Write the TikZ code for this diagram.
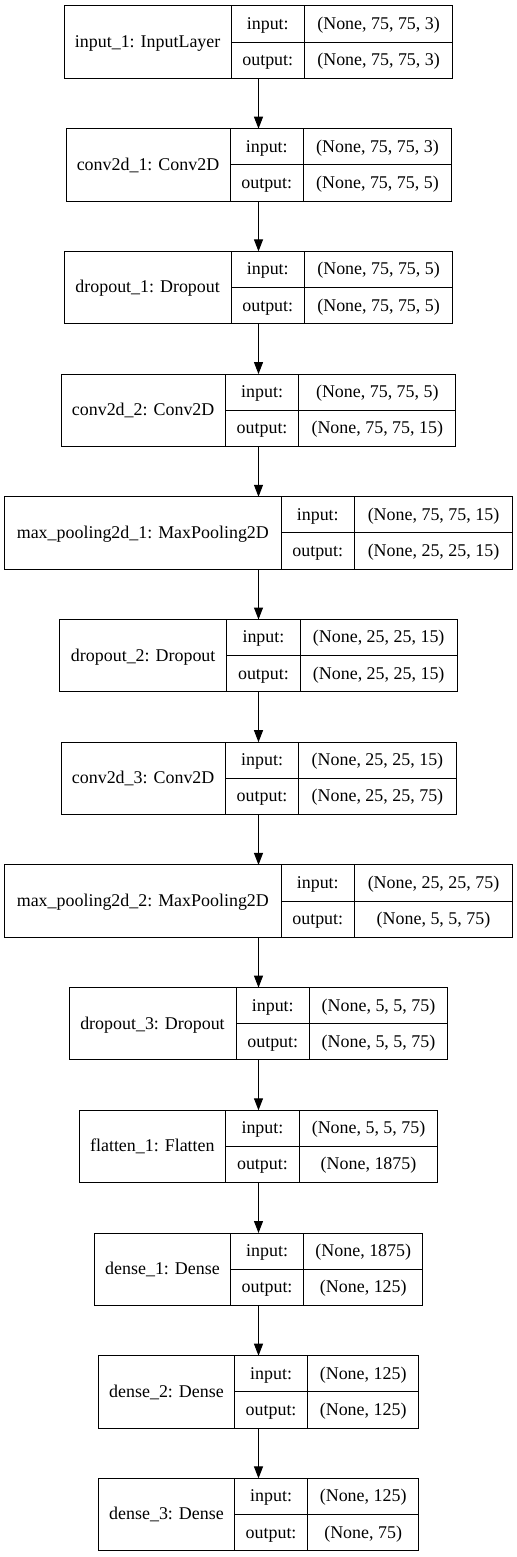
\documentclass[tikz,border=0pt]{standalone}
\usepackage{fontspec}
\setmainfont{Liberation Serif}
\usetikzlibrary{positioning,arrows.meta}
\tikzset{
  namebox/.style={rectangle, draw, line width=1bp, inner sep=0pt, outer sep=0pt, minimum height=72.3bp,
                  font=\fontsize{18}{20}\selectfont, text height=13.5bp, text depth=2.7bp},
  cell/.style={namebox, minimum height=36.15bp},
  tag/.style={cell, minimum width=73.5bp},
  fwd/.style={-{Triangle[length=12bp,width=9bp]}, line width=1bp},
}

\begin{document}
\begin{tikzpicture}[x=1bp,y=-1bp]
  \useasboundingbox (0,0) rectangle (517,1557);
  \coordinate (ax) at (258.5,0);

  % input_1
  \node[namebox, minimum width=166.7bp, anchor=north west] (inp) at (64.3,6) {input\_1: InputLayer};
  \node[tag, anchor=north west] (inp-in) at (inp.north east) {input:};
  \node[tag, below=0pt of inp-in] (inp-out) {output:};
  \node[cell, minimum width=148.2bp, right=0pt of inp-in] (inp-ins) {(None, 75, 75, 3)};
  \node[cell, minimum width=148.2bp, right=0pt of inp-out] (inp-outs) {(None, 75, 75, 3)};

  % conv2d_1
  \node[namebox, minimum width=164bp, anchor=north west] (conv1) at (66,128.7) {conv2d\_1: Conv2D};
  \node[tag, anchor=north west] (conv1-in) at (conv1.north east) {input:};
  \node[tag, below=0pt of conv1-in] (conv1-out) {output:};
  \node[cell, minimum width=148bp, right=0pt of conv1-in] (conv1-ins) {(None, 75, 75, 3)};
  \node[cell, minimum width=148bp, right=0pt of conv1-out] (conv1-outs) {(None, 75, 75, 5)};

  % dropout_1
  \node[namebox, minimum width=166.7bp, anchor=north west] (drop1) at (64.3,251.4) {dropout\_1: Dropout};
  \node[tag, anchor=north west] (drop1-in) at (drop1.north east) {input:};
  \node[tag, below=0pt of drop1-in] (drop1-out) {output:};
  \node[cell, minimum width=148.2bp, right=0pt of drop1-in] (drop1-ins) {(None, 75, 75, 5)};
  \node[cell, minimum width=148.2bp, right=0pt of drop1-out] (drop1-outs) {(None, 75, 75, 5)};

  % conv2d_2
  \node[namebox, minimum width=164.3bp, anchor=north west] (conv2) at (61,374.1) {conv2d\_2: Conv2D};
  \node[tag, anchor=north west] (conv2-in) at (conv2.north east) {input:};
  \node[tag, below=0pt of conv2-in] (conv2-out) {output:};
  \node[cell, minimum width=157bp, right=0pt of conv2-in] (conv2-ins) {(None, 75, 75, 5)};
  \node[cell, minimum width=157bp, right=0pt of conv2-out] (conv2-outs) {(None, 75, 75, 15)};

  % max_pooling2d_1
  \node[namebox, minimum width=276.3bp, anchor=north west] (pool1) at (4.7,496.8) {max\_pooling2d\_1: MaxPooling2D};
  \node[tag, anchor=north west] (pool1-in) at (pool1.north east) {input:};
  \node[tag, below=0pt of pool1-in] (pool1-out) {output:};
  \node[cell, minimum width=158bp, right=0pt of pool1-in] (pool1-ins) {(None, 75, 75, 15)};
  \node[cell, minimum width=158bp, right=0pt of pool1-out] (pool1-outs) {(None, 25, 25, 15)};

  % dropout_2
  \node[namebox, minimum width=167bp, anchor=north west] (drop2) at (59.7,619.5) {dropout\_2: Dropout};
  \node[tag, anchor=north west] (drop2-in) at (drop2.north east) {input:};
  \node[tag, below=0pt of drop2-in] (drop2-out) {output:};
  \node[cell, minimum width=157bp, right=0pt of drop2-in] (drop2-ins) {(None, 25, 25, 15)};
  \node[cell, minimum width=157bp, right=0pt of drop2-out] (drop2-outs) {(None, 25, 25, 15)};

  % conv2d_3
  \node[namebox, minimum width=164.3bp, anchor=north west] (conv3) at (61,742.2) {conv2d\_3: Conv2D};
  \node[tag, anchor=north west] (conv3-in) at (conv3.north east) {input:};
  \node[tag, below=0pt of conv3-in] (conv3-out) {output:};
  \node[cell, minimum width=157.3bp, right=0pt of conv3-in] (conv3-ins) {(None, 25, 25, 15)};
  \node[cell, minimum width=157.3bp, right=0pt of conv3-out] (conv3-outs) {(None, 25, 25, 75)};

  % max_pooling2d_2
  \node[namebox, minimum width=276.3bp, anchor=north west] (pool2) at (4.7,864.9) {max\_pooling2d\_2: MaxPooling2D};
  \node[tag, anchor=north west] (pool2-in) at (pool2.north east) {input:};
  \node[tag, below=0pt of pool2-in] (pool2-out) {output:};
  \node[cell, minimum width=158bp, right=0pt of pool2-in] (pool2-ins) {(None, 25, 25, 75)};
  \node[cell, minimum width=158bp, right=0pt of pool2-out] (pool2-outs) {(None, 5, 5, 75)};

  % dropout_3
  \node[namebox, minimum width=167bp, anchor=north west] (drop3) at (69,987.6) {dropout\_3: Dropout};
  \node[tag, anchor=north west] (drop3-in) at (drop3.north east) {input:};
  \node[tag, below=0pt of drop3-in] (drop3-out) {output:};
  \node[cell, minimum width=138bp, right=0pt of drop3-in] (drop3-ins) {(None, 5, 5, 75)};
  \node[cell, minimum width=138bp, right=0pt of drop3-out] (drop3-outs) {(None, 5, 5, 75)};

  % flatten_1
  \node[namebox, minimum width=146.7bp, anchor=north west] (flat) at (79,1110.3) {flatten\_1: Flatten};
  \node[tag, anchor=north west] (flat-in) at (flat.north east) {input:};
  \node[tag, below=0pt of flat-in] (flat-out) {output:};
  \node[cell, minimum width=138.7bp, right=0pt of flat-in] (flat-ins) {(None, 5, 5, 75)};
  \node[cell, minimum width=138.7bp, right=0pt of flat-out] (flat-outs) {(None, 1875)};

  % dense_1
  \node[namebox, minimum width=135.6bp, anchor=north west] (dense1) at (94.7,1233) {dense\_1: Dense};
  \node[tag, anchor=north west] (dense1-in) at (dense1.north east) {input:};
  \node[tag, below=0pt of dense1-in] (dense1-out) {output:};
  \node[cell, minimum width=119bp, right=0pt of dense1-in] (dense1-ins) {(None, 1875)};
  \node[cell, minimum width=119bp, right=0pt of dense1-out] (dense1-outs) {(None, 125)};

  % dense_2
  \node[namebox, minimum width=135.6bp, anchor=north west] (dense2) at (98.7,1355.7) {dense\_2: Dense};
  \node[tag, anchor=north west] (dense2-in) at (dense2.north east) {input:};
  \node[tag, below=0pt of dense2-in] (dense2-out) {output:};
  \node[cell, minimum width=110.7bp, right=0pt of dense2-in] (dense2-ins) {(None, 125)};
  \node[cell, minimum width=110.7bp, right=0pt of dense2-out] (dense2-outs) {(None, 125)};

  % dense_3
  \node[namebox, minimum width=135.6bp, anchor=north west] (dense3) at (98.7,1478.4) {dense\_3: Dense};
  \node[tag, anchor=north west] (dense3-in) at (dense3.north east) {input:};
  \node[tag, below=0pt of dense3-in] (dense3-out) {output:};
  \node[cell, minimum width=110.7bp, right=0pt of dense3-in] (dense3-ins) {(None, 125)};
  \node[cell, minimum width=110.7bp, right=0pt of dense3-out] (dense3-outs) {(None, 75)};

  \draw[fwd] (inp-out.south -| ax) -- (conv1-in.north -| ax);
  \draw[fwd] (conv1-out.south -| ax) -- (drop1-in.north -| ax);
  \draw[fwd] (drop1-out.south -| ax) -- (conv2-in.north -| ax);
  \draw[fwd] (conv2-out.south -| ax) -- (pool1.north -| ax);
  \draw[fwd] (pool1.south -| ax) -- (drop2-in.north -| ax);
  \draw[fwd] (drop2-out.south -| ax) -- (conv3-in.north -| ax);
  \draw[fwd] (conv3-out.south -| ax) -- (pool2.north -| ax);
  \draw[fwd] (pool2.south -| ax) -- (drop3-in.north -| ax);
  \draw[fwd] (drop3-out.south -| ax) -- (flat-in.north -| ax);
  \draw[fwd] (flat-out.south -| ax) -- (dense1-in.north -| ax);
  \draw[fwd] (dense1-out.south -| ax) -- (dense2-in.north -| ax);
  \draw[fwd] (dense2-out.south -| ax) -- (dense3-in.north -| ax);

\end{tikzpicture}
\end{document}
